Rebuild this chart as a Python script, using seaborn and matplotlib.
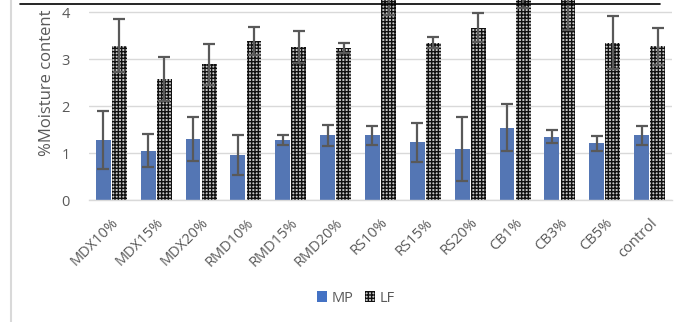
import matplotlib
matplotlib.use("Agg")
import matplotlib.pyplot as plt
import seaborn as sns
import pandas as pd
import numpy as np
from matplotlib.lines import Line2D

categories = ["MDX10%", "MDX15%", "MDX20%", "RMD10%", "RMD15%", "RMD20%",
              "RS10%", "RS15%", "RS20%", "CB1%", "CB3%", "CB5%", "control"]
mp_values = [1.28, 1.05, 1.30, 0.96, 1.28, 1.38, 1.38, 1.23, 1.09, 1.54, 1.35, 1.21, 1.38]
mp_errors = [0.61, 0.35, 0.46, 0.42, 0.11, 0.22, 0.20, 0.41, 0.68, 0.50, 0.14, 0.16, 0.20]
lf_values = [3.29, 2.58, 2.89, 3.39, 3.26, 3.24, 4.40, 3.35, 3.67, 4.60, 4.30, 3.35, 3.27]
lf_errors = [0.57, 0.47, 0.44, 0.30, 0.34, 0.11, 0.45, 0.12, 0.31, 0.50, 0.68, 0.56, 0.40]
series = ["MP", "LF"]
yticks = [0, 1, 2, 3, 4]

sns.set_theme(style="white")
plt.rcParams["font.family"] = ["Open Sans", "DejaVu Sans"]
plt.rcParams["hatch.linewidth"] = 1.0

df = pd.DataFrame({
    "cat": categories * 2,
    "series": [series[0]] * len(categories) + [series[1]] * len(categories),
    "value": mp_values + lf_values,
})

fig = plt.figure(figsize=(6.81, 3.22), dpi=100)
ax = fig.add_axes([89 / 681, 122 / 322, (672 - 89) / 681, 200 / 322])

sns.barplot(data=df, x="cat", y="value", hue="series", order=categories,
            hue_order=series, palette=["#4472C4", "#ffffff"], width=0.72,
            gap=0.08, errorbar=None, ax=ax, legend=False, linewidth=0)

n = len(categories)
mp_patches = ax.patches[:n]
lf_patches = ax.patches[n:2 * n]
for p in lf_patches:
    p.set_facecolor("#c8c8c8")
    p.set_edgecolor("#111111")
    p.set_hatch("+++++")
    p.set_linewidth(0)

mp_x = [p.get_x() + p.get_width() / 2 for p in mp_patches]
lf_x = [p.get_x() + p.get_width() / 2 for p in lf_patches]
ekw = dict(fmt="none", ecolor="#595959", elinewidth=1.6, capsize=4.5, capthick=1.6, zorder=5)
ax.errorbar(mp_x, mp_values, yerr=mp_errors, **ekw)
ax.errorbar(lf_x, lf_values, yerr=lf_errors, **ekw)

ax.set_ylim(0, 4.26)
ax.set_xlim(-0.5, n - 0.5)
ax.set_yticks(yticks)
ax.set_yticklabels([str(t) for t in yticks])
ax.yaxis.grid(True, color="#d9d9d9", linewidth=1.0)
ax.set_axisbelow(True)
for s in ["top", "right", "left"]:
    ax.spines[s].set_visible(False)
ax.spines["bottom"].set_color("#d9d9d9")
ax.spines["bottom"].set_linewidth(1.0)
ax.tick_params(axis="both", length=0, colors="#595959", labelsize=10.5)
ax.tick_params(axis="y", pad=14)
ax.tick_params(axis="x", pad=11)
for lbl in ax.get_xticklabels():
    lbl.set_rotation(45)
    lbl.set_ha("right")
    lbl.set_rotation_mode("anchor")
ax.set_xlabel("")
ax.set_ylabel("%Moisture content", color="#595959", fontsize=12)
ax.yaxis.set_label_coords(-0.058, 0.585)

handles = [plt.Rectangle((0, 0), 1, 1, facecolor="#4472C4", edgecolor="none"),
           plt.Rectangle((0, 0), 1, 1, facecolor="#c8c8c8", edgecolor="#111111",
                         hatch="+++++", linewidth=0)]
leg = fig.legend(handles, series, loc="center", bbox_to_anchor=(356 / 681, 1 - 298 / 322),
                 ncol=2, frameon=False, fontsize=10.5, handlelength=0.7, handleheight=0.7,
                 handletextpad=0.3, columnspacing=0.8)
for t in leg.get_texts():
    t.set_color("#595959")

fig.add_artist(Line2D([20 / 681, 660 / 681], [1 - 4 / 322, 1 - 4 / 322],
                      color="black", linewidth=1.2, transform=fig.transFigure))
fig.add_artist(Line2D([11 / 681, 11 / 681], [0, 1], color="#d9d9d9",
                      linewidth=1.5, transform=fig.transFigure))

fig.savefig("out.png", dpi=100)
